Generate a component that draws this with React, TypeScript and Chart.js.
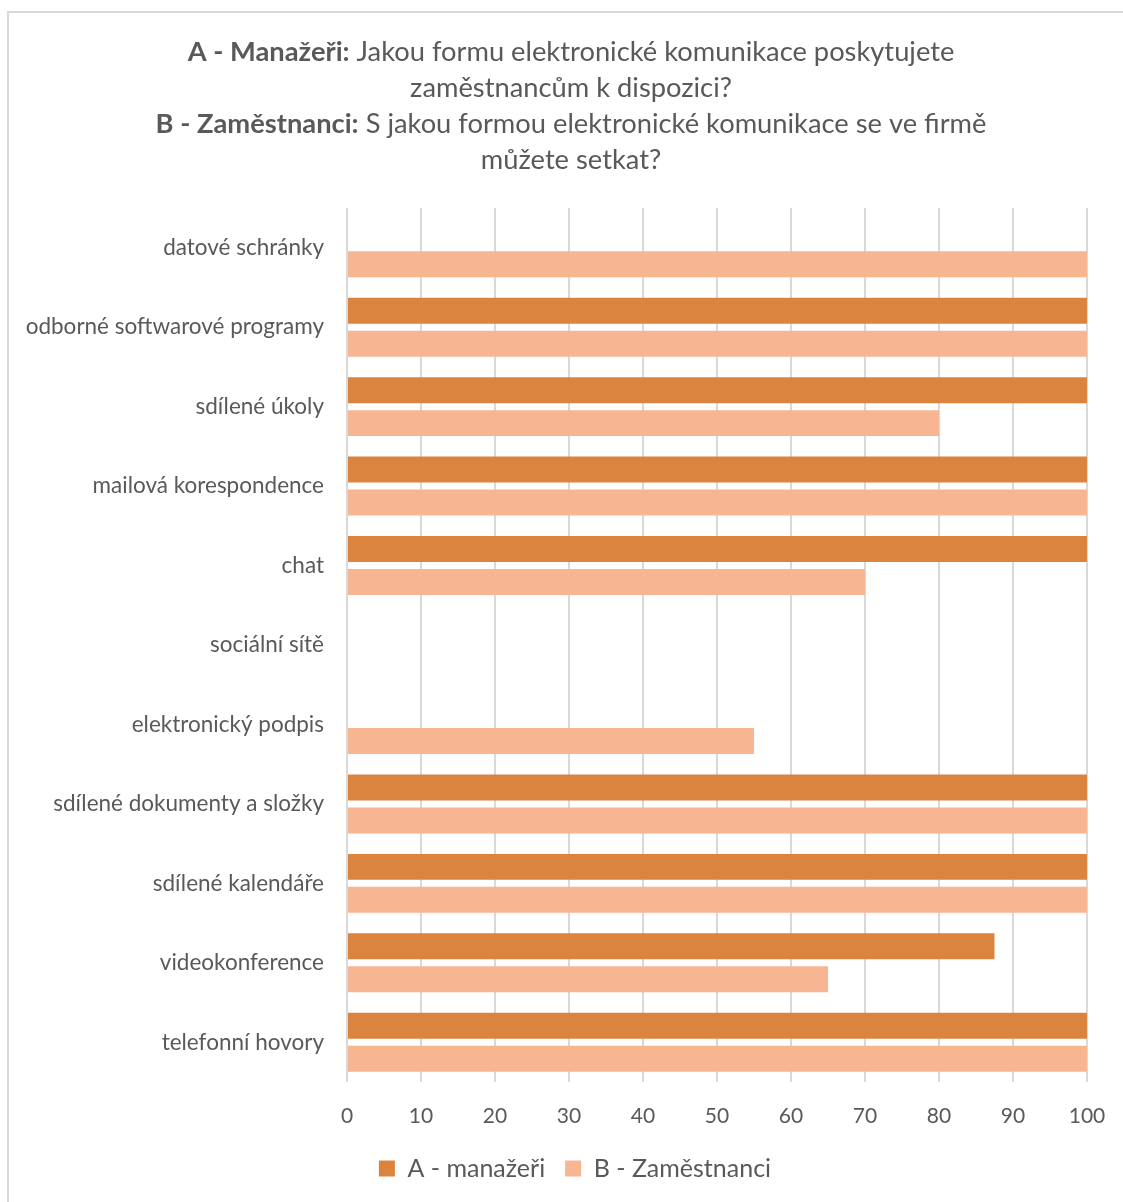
import React, { useEffect, useRef } from "react";
import { Chart, registerables } from "chart.js";

Chart.register(...registerables);

const categories = [
  "datové schránky",
  "odborné softwarové programy",
  "sdílené úkoly",
  "mailová korespondence",
  "chat",
  "sociální sítě",
  "elektronický podpis",
  "sdílené dokumenty a složky",
  "sdílené kalendáře",
  "videokonference",
  "telefonní hovory",
];
const seriesNames = ["A - manažeři", "B - Zaměstnanci"];
const managersValues = [0, 100, 100, 100, 100, 0, 0, 100, 100, 87.5, 100];
const employeesValues = [100, 100, 80, 100, 70, 0, 55, 100, 100, 65, 100];
const axisMin = 0;
const axisMax = 100;
const axisStep = 10;

const titleLines: { bold: boolean; text: string }[][] = [
  [
    { bold: true, text: "A - Manažeři:" },
    { bold: false, text: " Jakou formu elektronické komunikace poskytujete" },
  ],
  [{ bold: false, text: "zaměstnancům k dispozici?" }],
  [
    { bold: true, text: "B - Zaměstnanci:" },
    { bold: false, text: " S jakou formou elektronické komunikace se ve firmě" },
  ],
  [{ bold: false, text: "můžete setkat?" }],
];

const COLOR_A = "#DB843F";
const COLOR_B = "#F8B592";
const TEXT = "#595959";
const GRID = "#D9D9D9";
const FONT = "Lato, 'Open Sans', sans-serif";

const W = 1123;
const H = 1202;

const titlePlugin = {
  id: "mixedTitle",
  afterLayout(chart: any) {
    // centre the legend under the whole chart box like the original
    if (chart.legend) {
      chart.legend.left = 63;
    }
  },
  afterDraw(chart: any) {
    const ctx = chart.ctx as CanvasRenderingContext2D;
    const size = 27.3;
    const cx = 571;
    const y0 = 52;
    const lh = 36;
    ctx.save();
    ctx.fillStyle = TEXT;
    ctx.textBaseline = "middle";
    ctx.textAlign = "left";
    titleLines.forEach((line, i) => {
      let total = 0;
      const widths = line.map((seg) => {
        ctx.font = `${seg.bold ? "bold " : ""}${size}px ${FONT}`;
        const w = ctx.measureText(seg.text).width;
        total += w;
        return w;
      });
      let x = cx - total / 2;
      line.forEach((seg, j) => {
        ctx.font = `${seg.bold ? "bold " : ""}${size}px ${FONT}`;
        ctx.fillText(seg.text, x, y0 + i * lh);
        x += widths[j];
      });
    });
    ctx.restore();
  },
};

export default function App() {
  const ref = useRef<HTMLCanvasElement | null>(null);

  useEffect(() => {
    if (!ref.current) return;
    const chart = new Chart(ref.current, {
      type: "bar",
      data: {
        labels: categories,
        datasets: [
          {
            label: seriesNames[0],
            data: managersValues,
            backgroundColor: COLOR_A,
            borderWidth: 0,
          },
          {
            label: seriesNames[1],
            data: employeesValues,
            backgroundColor: COLOR_B,
            borderWidth: 0,
          },
        ],
      },
      options: {
        indexAxis: "y",
        responsive: false,
        animation: false,
        maintainAspectRatio: false,
        layout: {
          padding: { left: 0, right: 36, top: 208, bottom: 11 },
        },
        datasets: {
          bar: { categoryPercentage: 0.83, barPercentage: 0.788 },
        },
        scales: {
          x: {
            min: axisMin,
            max: axisMax,
            ticks: {
              stepSize: axisStep,
              color: TEXT,
              font: { family: FONT, size: 21 },
              padding: 22,
            },
            grid: { color: GRID, lineWidth: 2, drawTicks: false },
            border: { display: false },
            afterFit: (s: any) => {
              s.height = 54;
              s.paddingLeft = 0;
              s.paddingRight = 20;
            },
          },
          y: {
            ticks: {
              color: TEXT,
              font: { family: FONT, size: 22.5 },
              padding: 23,
            },
            grid: { display: false, drawTicks: false },
            border: { display: false },
            afterFit: (s: any) => {
              s.width = 347;
            },
          },
        },
        plugins: {
          legend: {
            position: "bottom",
            labels: {
              boxWidth: 16,
              boxHeight: 16,
              color: TEXT,
              font: { family: FONT, size: 25 },
              padding: 20,
            },
          },
          title: { display: false },
          tooltip: { enabled: false },
        },
      },
      plugins: [titlePlugin],
    } as any);
    return () => chart.destroy();
  }, []);

  return (
    <div
      style={{
        position: "fixed",
        left: 0,
        top: 0,
        width: W,
        height: H,
        overflow: "hidden",
        background: "#fff",
      }}
    >
      <div
        style={{
          position: "absolute",
          left: 7,
          top: 11,
          width: 1300,
          height: 1400,
          border: "2px solid #D9D9D9",
          boxSizing: "border-box",
          background: "#fff",
        }}
      />
      <canvas
        ref={ref}
        width={W}
        height={H}
        style={{ position: "absolute", left: 0, top: 0, width: W, height: H }}
      />
    </div>
  );
}
